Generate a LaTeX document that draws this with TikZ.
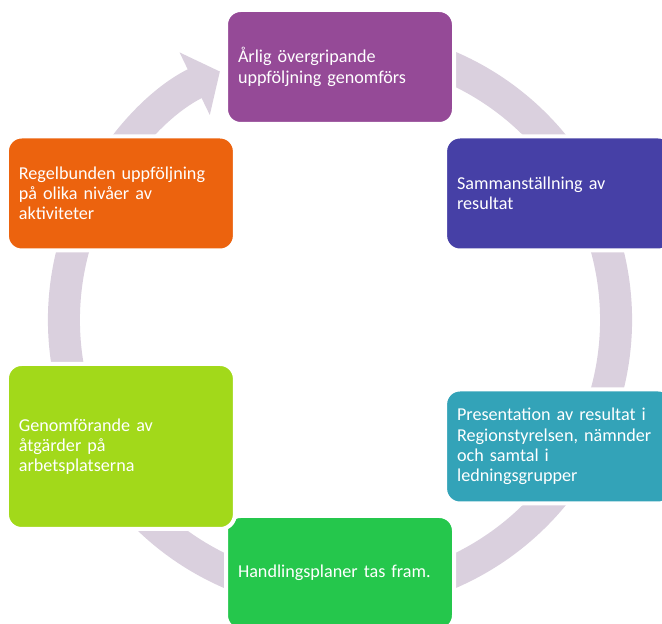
\documentclass[tikz,border=0pt]{standalone}
\usepackage{fontspec}
\setmainfont{Carlito}
\usetikzlibrary{
  arrows.meta,
  positioning
}

\definecolor{ringc}{HTML}{DAD0DE}
\definecolor{arligc}{HTML}{954A97}
\definecolor{sammanc}{HTML}{4640A6}
\definecolor{presc}{HTML}{33A3B8}
\definecolor{handc}{HTML}{25C74C}
\definecolor{genomc}{HTML}{A2D91A}
\definecolor{regelc}{HTML}{EC630E}

\begin{document}
\begin{tikzpicture}[x=0.75pt, y=0.75pt,
    box/.style = {rectangle, rounded corners=11pt, draw=white, line width=3pt,
                  text=white, align=left, text width=153pt,
                  minimum width=171pt, minimum height=85.5pt,
                  font=\fontsize{13.6}{15.2}\selectfont},
    ring/.style = {draw=ringc, line width=24pt,
                   -{Triangle[length=21pt, width=51pt]}}]
    \useasboundingbox (0,0) rectangle (662,624);
    \clip (0,0) rectangle (662,624);

    \coordinate (mid) at (340,304);

    % circular arrow behind the boxes
    \draw[ring] ([shift={(70:276)}]mid) arc[start angle=70, end angle=-244.2, radius=276];

    \node[box, fill=arligc] (arlig) at ([shift={(90:253)}]mid)
        {Årlig övergripande\\uppföljning genomförs};
    \node[box, fill=sammanc] (samman) at ([shift={(30:253)}]mid)
        {Sammanställning av\\resultat};
    \node[box, fill=presc] (pres) at ([shift={(-30:253)}]mid)
        {Presentation av resultat i\\Regionstyrelsen, nämnder\\och samtal i\\ledningsgrupper};
    \node[box, fill=handc] (hand) at ([shift={(-90:253)}]mid)
        {Handlingsplaner tas fram.};
    \node[box, fill=genomc, minimum height=123.75pt] (genom) at ([shift={(-150:253)}]mid)
        {Genomförande av\\åtgärder på\\arbetsplatserna};
    \node[box, fill=regelc] (regel) at ([shift={(150:253)}]mid)
        {Regelbunden uppföljning\\på olika nivåer av\\aktiviteter};
\end{tikzpicture}
\end{document}
